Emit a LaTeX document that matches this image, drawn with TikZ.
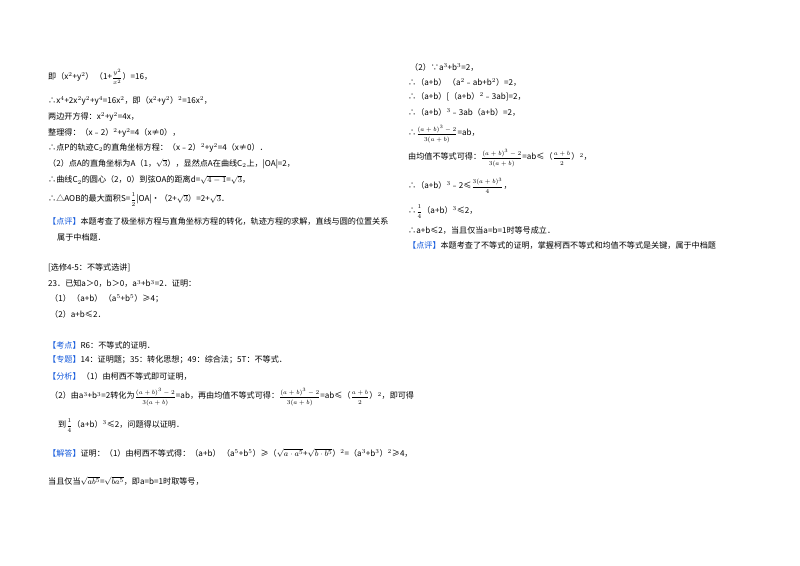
\documentclass[tikz,border=0pt]{standalone}
\usepackage{amsmath,amssymb}
\usepackage{fontspec}
\setmainfont{Noto Sans CJK SC}
\definecolor{kb}{RGB}{20,90,220}
\newcommand{\kw}[1]{\textcolor{kb}{【#1】}}
\newcommand{\fr}[2]{{\fontsize{6.5}{7}\selectfont$\dfrac{#1}{#2}$}}
\begin{document}
\begin{tikzpicture}[x=1pt,y=-1pt,t/.style={anchor=west,inner sep=0pt,font=\fontsize{8.1}{9}\selectfont}]
\useasboundingbox[fill=white] (0,0) rectangle (800,565);
\node[t] (l1) at (48,77) {即（x$^2$+y$^2$）\,（1+\fr{y^2}{x^2}）=16，};
\node[t] (l2) at (48,101) {∴x$^4$+2x$^2$y$^2$+y$^4$=16x$^2$，即（x$^2$+y$^2$）$^2$=16x$^2$，};
\node[t] (l3) at (48,117) {两边开方得：x$^2$+y$^2$=4x，};
\node[t] (l4) at (48,133) {整理得：（x﹣2）$^2$+y$^2$=4（x≠0），};
\node[t] (l5) at (48,148) {∴点P的轨迹C$_2$的直角坐标方程：（x﹣2）$^2$+y$^2$=4（x≠0）．};
\node[t] (l6) at (48,164) {（2）点A的直角坐标为A（1，$\sqrt{3}$），显然点A在曲线C$_2$上，|OA|=2，};
\node[t] (l7) at (48,180) {∴曲线C$_2$的圆心（2，0）到弦OA的距离d=$\sqrt{4-1}$=$\sqrt{3}$，};
\node[t] (l8) at (48,200) {∴△AOB的最大面积S=\fr{1}{2}|OA|•（2+$\sqrt{3}$）=2+$\sqrt{3}$．};
\node[t] (l9) at (48,221) {\kw{点评}本题考查了极坐标方程与直角坐标方程的转化，轨迹方程的求解，直线与圆的位置关系};
\node[t] (l10) at (57,237) {属于中档题．};
\node[t] (l11) at (48,268) {[选修4-5：不等式选讲]};
\node[t] (l12) at (48,284) {23．已知a＞0，b＞0，a$^3$+b$^3$=2．证明：};
\node[t] (l13) at (50,299) {（1）\,（a+b）\,（a$^5$+b$^5$）≥4；};
\node[t] (l14) at (50,314) {（2）a+b≤2．};
\node[t] (l15) at (48,345) {\kw{考点}R6：不等式的证明．};
\node[t] (l16) at (48,360) {\kw{专题}14：证明题；35：转化思想；49：综合法；5T：不等式．};
\node[t] (l17) at (48,376) {\kw{分析}\,（1）由柯西不等式即可证明，};
\node[t] (l18) at (50,397) {（2）由a$^3$+b$^3$=2转化为\fr{(a+b)^3-2}{3(a+b)}=ab，再由均值不等式可得：\fr{(a+b)^3-2}{3(a+b)}=ab≤（\fr{a+b}{2}）$^2$，即可得};
\node[t] (l19) at (58,426) {到\fr{1}{4}（a+b）$^3$≤2，问题得以证明．};
\node[t] (l20) at (48,453) {\kw{解答}证明：（1）由柯西不等式得：（a+b）\,（a$^5$+b$^5$）≥（$\sqrt{a\cdot a^5}$+$\sqrt{b\cdot b^5}$）$^2$=（a$^3$+b$^3$）$^2$≥4，};
\node[t] (l21) at (48,481) {当且仅当$\sqrt{ab^5}$=$\sqrt{ba^5}$，即a=b=1时取等号，};
\node[t] (r1) at (410,67) {（2）∵a$^3$+b$^3$=2，};
\node[t] (r2) at (408,82) {∴（a+b）\,（a$^2$﹣ab+b$^2$）=2，};
\node[t] (r3) at (408,97) {∴（a+b）[（a+b）$^2$﹣3ab]=2，};
\node[t] (r4) at (408,112) {∴（a+b）$^3$﹣3ab（a+b）=2，};
\node[t] (r5) at (408,134) {∴\fr{(a+b)^3-2}{3(a+b)}=ab，};
\node[t] (r6) at (408,158) {由均值不等式可得：\fr{(a+b)^3-2}{3(a+b)}=ab≤（\fr{a+b}{2}）$^2$，};
\node[t] (r7) at (408,186) {∴（a+b）$^3$﹣2≤\fr{3(a+b)^3}{4}，};
\node[t] (r8) at (408,212) {∴\fr{1}{4}（a+b）$^3$≤2，};
\node[t] (r9) at (408,231) {∴a+b≤2，当且仅当a=b=1时等号成立．};
\node[t] (r10) at (408,246) {\kw{点评}本题考查了不等式的证明，掌握柯西不等式和均值不等式是关键，属于中档题};
\end{tikzpicture}
\end{document}
